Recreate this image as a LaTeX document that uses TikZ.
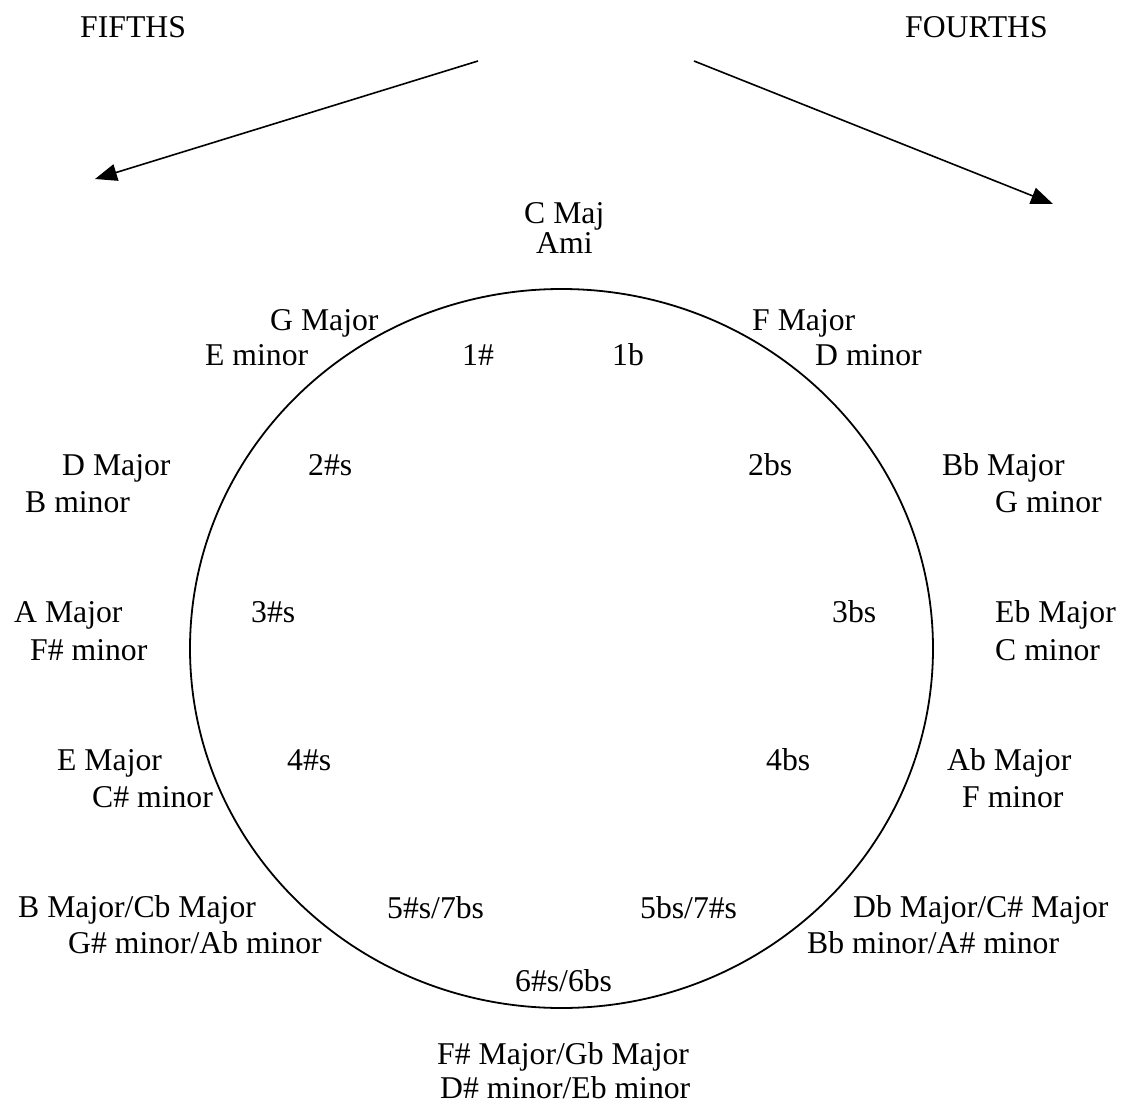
\documentclass[tikz,border=0pt]{standalone}
\usepackage{fontspec}
\setmainfont{Liberation Serif}
\usetikzlibrary{arrows.meta,shapes.geometric}
\begin{document}
\begin{tikzpicture}[x=1pt,y=-1pt,
  lbl/.style={anchor=base west,inner sep=0pt,font=\fontsize{31.7}{35}\selectfont},
  arr/.style={line width=1.6pt,-{Triangle[length=22pt,width=17pt]}},
  ring/.style={line width=1.8pt}]
\useasboundingbox (0,0) rectangle (1125,1108);
% headings
\node[lbl] (fifths) at (80,38) {FIFTHS};
\node[lbl] (fourths) at (905,38) {FOURTHS};
% arrows
\coordinate (l0) at (478,61);
\coordinate (l1) at (95,179);
\coordinate (r0) at (694,61);
\coordinate (r1) at (1053,204);
\draw[arr] (l0) -- (l1);
\draw[arr] (r0) -- (r1);
% circle
\node[ring,draw,ellipse,minimum width=743pt,minimum height=719pt,inner sep=0pt] (circ) at (561.5,648.5) {};
% top
\node[lbl] (cmaj) at (524,223) {C Maj};
\node[lbl] (ami) at (536,253) {Ami};
% row 1
\node[lbl] (gmaj) at (270,330) {G Major};
\node[lbl] (emin) at (205,365) {E minor};
\node[lbl] (s1) at (462,365) {1\#};
\node[lbl] (b1) at (612,365) {1b};
\node[lbl] (fmaj) at (752,330) {F Major};
\node[lbl] (dmin) at (815,365) {D minor};
% row 2
\node[lbl] (dmaj) at (62,475) {D Major};
\node[lbl] (bmin) at (25,512) {B minor};
\node[lbl] (s2) at (308,475) {2\#s};
\node[lbl] (b2) at (748,475) {2bs};
\node[lbl] (bbmaj) at (942,475) {Bb Major};
\node[lbl] (gmin) at (995,512) {G minor};
% row 3
\node[lbl] (amaj) at (14,622) {A Major};
\node[lbl] (fsmin) at (30,660) {F\# minor};
\node[lbl] (s3) at (251,622) {3\#s};
\node[lbl] (b3) at (832,622) {3bs};
\node[lbl] (ebmaj) at (995,622) {Eb Major};
\node[lbl] (cmin) at (995,660) {C minor};
% row 4
\node[lbl] (emaj) at (57,770) {E Major};
\node[lbl] (csmin) at (92,807) {C\# minor};
\node[lbl] (s4) at (287,770) {4\#s};
\node[lbl] (b4) at (766,770) {4bs};
\node[lbl] (abmaj) at (947,770) {Ab Major};
\node[lbl] (fmin) at (962,807) {F minor};
% row 5
\node[lbl] (bmaj) at (18,917) {B Major/Cb Major};
\node[lbl] (gsmin) at (68,953) {G\# minor/Ab minor};
\node[lbl] (s5) at (387,918) {5\#s/7bs};
\node[lbl] (b5) at (640,918) {5bs/7\#s};
\node[lbl] (dbmaj) at (853,917) {Db Major/C\# Major};
\node[lbl] (bbmin) at (807,953) {Bb minor/A\# minor};
% bottom
\node[lbl] (s6) at (515,991) {6\#s/6bs};
\node[lbl] (fsmaj) at (437,1064) {F\# Major/Gb Major};
\node[lbl] (dsmin) at (440,1098) {D\# minor/Eb minor};
\end{tikzpicture}
\end{document}
